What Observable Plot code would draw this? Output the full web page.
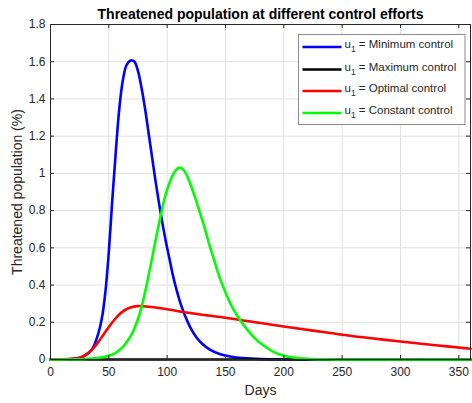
<!DOCTYPE html>
<html>
<head>
<meta charset="utf-8">
<script src="https://cdn.jsdelivr.net/npm/d3@7"></script>
<script src="https://cdn.jsdelivr.net/npm/@observablehq/plot@0.6"></script>
<style>
  html, body { margin: 0; padding: 0; background: #fff; }
  #chart svg { display: block; }
</style>
</head>
<body>
<div id="chart"></div>
<script>
const titleText = "Threatened population at different control efforts";
const xLabel = "Days";
const yLabel = "Threatened population (%)";

const xTicks = [0, 50, 100, 150, 200, 250, 300, 350];
const yTicks = [0, 0.2, 0.4, 0.6, 0.8, 1, 1.2, 1.4, 1.6, 1.8];
const yTickLabels = ["0", "0.2", "0.4", "0.6", "0.8", "1", "1.2", "1.4", "1.6", "1.8"];

const seriesNames = ["Minimum control", "Maximum control", "Optimal control", "Constant control"];
const seriesColors = ["#0000ff", "#000000", "#ff0000", "#00ff00"];

// Minimum control (blue)
const minDays = [0, 10, 20, 25, 30, 35, 38, 41, 44, 47, 50, 53, 56, 59, 62, 65, 68, 70, 72, 75, 78, 81, 84, 87, 90, 93, 96, 99, 102, 105, 108, 111, 115, 120, 125, 130, 137, 145, 155, 165, 180, 200, 250, 360];
const minVals = [0, 0.001, 0.004, 0.009, 0.022, 0.05, 0.085, 0.14, 0.22, 0.36, 0.58, 0.86, 1.12, 1.35, 1.5, 1.58, 1.605, 1.607, 1.6, 1.55, 1.46, 1.35, 1.22, 1.09, 0.96, 0.84, 0.73, 0.63, 0.54, 0.45, 0.375, 0.31, 0.24, 0.17, 0.12, 0.085, 0.052, 0.03, 0.015, 0.008, 0.003, 0.001, 0, 0];

// Maximum control (black)
const maxDays = [0, 360];
const maxVals = [0, 0];

// Optimal control (red)
const optDays = [0, 10, 20, 25, 30, 35, 40, 45, 50, 55, 60, 65, 70, 75, 80, 90, 100, 115, 130, 150, 165, 180, 200, 225, 250, 275, 300, 330, 360];
const optVals = [0, 0.001, 0.005, 0.01, 0.025, 0.05, 0.085, 0.13, 0.175, 0.215, 0.248, 0.27, 0.282, 0.287, 0.286, 0.279, 0.27, 0.254, 0.24, 0.224, 0.21, 0.196, 0.177, 0.155, 0.133, 0.114, 0.097, 0.077, 0.058];

// Constant control (green)
const conDays = [0, 20, 30, 40, 50, 55, 60, 65, 70, 74, 78, 82, 86, 90, 94, 98, 102, 106, 110, 113, 116, 120, 124, 128, 132, 136, 140, 145, 150, 155, 160, 165, 170, 175, 180, 190, 200, 210, 220, 235, 250, 360];
const conVals = [0, 0.001, 0.003, 0.008, 0.02, 0.033, 0.055, 0.09, 0.14, 0.2, 0.28, 0.39, 0.51, 0.64, 0.76, 0.87, 0.95, 1.005, 1.03, 1.025, 1.0, 0.94, 0.87, 0.79, 0.71, 0.62, 0.54, 0.44, 0.36, 0.29, 0.235, 0.19, 0.15, 0.115, 0.087, 0.045, 0.02, 0.009, 0.004, 0.001, 0, 0];

const seriesDays = [minDays, maxDays, optDays, conDays];
const seriesVals = [minVals, maxVals, optVals, conVals];

const data = [];
seriesNames.forEach((name, i) => {
  seriesDays[i].forEach((d, j) => data.push({series: name, day: d, value: seriesVals[i][j]}));
});

const W = 472, H = 403;
const mL = 50, mR = 2, mT = 24, mB = 44;
const frameW = W - mL - mR, frameH = H - mT - mB;
const font = "'Liberation Sans', Arial, Helvetica, sans-serif";
const axisColor = "#262626";
const tickLen = 4;

const chart = Plot.plot({
  width: W,
  height: H,
  marginLeft: mL,
  marginRight: mR,
  marginTop: mT,
  marginBottom: mB,
  style: {fontFamily: font, fontSize: "12px", color: axisColor, background: "#fff"},
  x: {domain: [0, 360]},
  y: {domain: [0, 1.8]},
  color: {domain: seriesNames, range: seriesColors},
  marks: [
    Plot.gridX(xTicks, {stroke: "#e0e0e0", strokeOpacity: 1}),
    Plot.gridY(yTicks, {stroke: "#e0e0e0", strokeOpacity: 1}),
    ...seriesNames.map(name => Plot.line(data.filter(d => d.series === name), {
      x: "day", y: "value", stroke: "series", strokeWidth: 2.6, curve: "catmull-rom"
    })),
    Plot.frame({stroke: axisColor, strokeWidth: 1}),
    Plot.tickX(xTicks, {x: d => d, stroke: axisColor, insetTop: frameH - tickLen}),
    Plot.tickX(xTicks, {x: d => d, stroke: axisColor, insetBottom: frameH - tickLen}),
    Plot.tickY(yTicks, {y: d => d, stroke: axisColor, insetRight: frameW - tickLen}),
    Plot.tickY(yTicks, {y: d => d, stroke: axisColor, insetLeft: frameW - tickLen}),
    Plot.axisX(xTicks, {tickSize: 0, tickPadding: 8, fontSize: 12, fill: axisColor, label: null}),
    Plot.axisY(yTicks, {tickSize: 0, tickPadding: 5, fontSize: 12, fill: axisColor, label: null,
      tickFormat: d => yTickLabels[yTicks.indexOf(d)]}),
    Plot.text([titleText], {frameAnchor: "top", lineAnchor: "middle", dy: -10, fontWeight: "bold", fontSize: 14, fill: "#000"}),
    Plot.text([xLabel], {frameAnchor: "bottom", lineAnchor: "middle", dy: 31, fontSize: 14, fill: axisColor}),
    Plot.text([yLabel], {frameAnchor: "left", textAnchor: "middle", lineAnchor: "middle", dx: -33, rotate: -90, fontSize: 14, fill: axisColor})
  ]
});

// Legend (MATLAB style box, top-right)
const svg = d3.select(chart);
const lg = svg.append("g").attr("font-family", font).attr("font-size", 11.5).attr("text-anchor", "start");
const bx = 298.5, by = 34.5, bw = 166.5, bh = 90;
lg.append("rect").attr("x", bx).attr("y", by).attr("width", bw).attr("height", bh)
  .attr("fill", "#fff").attr("stroke", "#8c8c8c").attr("stroke-width", 1);
const rowY = [47, 69.5, 91, 113];
seriesNames.forEach((name, i) => {
  lg.append("line").attr("x1", 302.5).attr("x2", 341.5).attr("y1", rowY[i]).attr("y2", rowY[i])
    .attr("stroke", seriesColors[i]).attr("stroke-width", 2.6);
  const t = lg.append("text").attr("x", 344.5).attr("y", rowY[i] + 1).attr("fill", axisColor)
    .attr("text-anchor", "start");
  t.append("tspan").text("u");
  t.append("tspan").attr("font-size", 8.5).attr("dy", 4).text("1");
  t.append("tspan").attr("dy", -4).text(" = " + name);
});

document.getElementById("chart").appendChild(chart);
</script>
</body>
</html>
